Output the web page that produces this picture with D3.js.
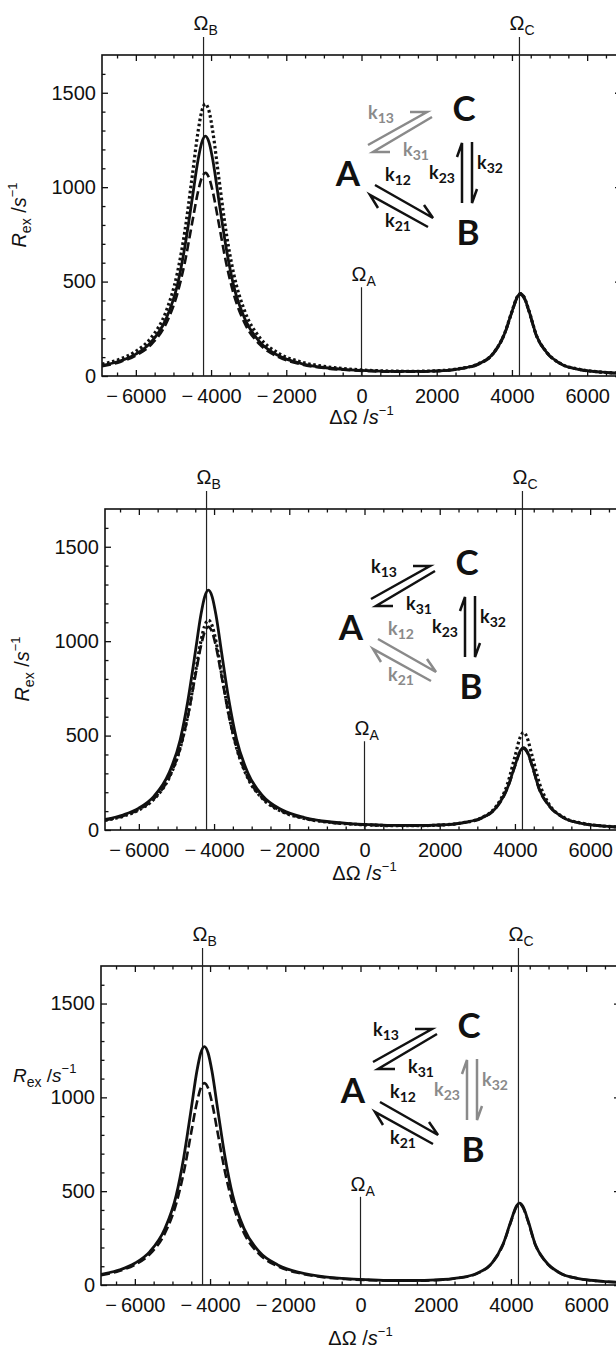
<!DOCTYPE html>
<html>
<head>
<meta charset="utf-8">
<script src="https://cdn.jsdelivr.net/npm/d3@7"></script>
<style>
  body { margin: 0; background: #fff; }
  svg { display: block; }
  text { font-family: "Liberation Sans", Arial, sans-serif; fill: #111; }
  .scheme text { font-family: Lato, "Open Sans", sans-serif; font-weight: 700; }
</style>
</head>
<body>
<svg id="chart" width="616" height="1357"></svg>
<script>
// offsets (s^-1) where the curves were read
const xGrid = [-6900, -6400, -6000, -5600, -5200, -4900, -4700, -4500, -4350, -4250,
  -4150, -4050, -3950, -3800, -3600, -3400, -3100, -2700, -2200, -1600,
  -1000, -400, 200, 800, 1400, 2000, 2600, 3100, 3500, 3800,
  4000, 4150, 4230, 4320, 4450, 4650, 4900, 5300, 5800, 6300, 6900];

// panel 1 (k13/k31 varied)
const p1Solid = [56, 81, 116, 178, 301, 478, 680, 940, 1140, 1235,
  1270, 1235, 1140, 940, 680, 479, 302, 179, 107, 66,
  45, 34, 28, 24, 24, 27, 38, 63, 118, 222,
  341, 422, 436, 418, 347, 215, 131, 64, 34, 22, 14];
const p1Dashed = [52, 76, 108, 165, 276, 434, 599, 814, 973, 1048,
  1076, 1048, 973, 814, 600, 435, 277, 166, 100, 62,
  42, 32, 26, 23, 23, 26, 37, 61, 117, 219,
  337, 417, 431, 413, 342, 213, 129, 64, 34, 21, 14];
const p1Dotted = [63, 91, 131, 201, 340, 543, 763, 1060, 1289, 1400,
  1441, 1400, 1289, 1060, 763, 543, 341, 202, 120, 74,
  51, 38, 30, 26, 25, 28, 39, 64, 119, 223,
  342, 423, 437, 419, 348, 216, 132, 65, 35, 22, 15];

// panel 2 (k12/k21 varied)
const p2Solid = [56, 81, 116, 178, 301, 478, 680, 940, 1140, 1235,
  1270, 1235, 1140, 940, 680, 479, 302, 179, 107, 66,
  45, 34, 28, 24, 24, 27, 38, 63, 118, 222,
  341, 422, 436, 418, 347, 215, 131, 64, 34, 22, 14];
const p2Dashed = [52, 76, 108, 165, 276, 434, 599, 814, 973, 1048,
  1076, 1048, 973, 814, 600, 435, 277, 166, 100, 62,
  42, 32, 26, 23, 23, 26, 37, 61, 117, 219,
  337, 417, 431, 413, 342, 213, 129, 64, 34, 21, 14];
const p2Dotted = [51, 74, 106, 163, 274, 434, 604, 829, 1000, 1081,
  1111, 1081, 1000, 829, 604, 434, 274, 164, 98, 61,
  42, 32, 26, 23, 23, 26, 38, 64, 125, 243,
  389, 496, 516, 491, 397, 248, 139, 67, 35, 22, 14];

// panel 3 (k23/k32 varied)
const p3Solid = [56, 81, 116, 178, 301, 478, 680, 940, 1140, 1235,
  1270, 1235, 1140, 940, 680, 479, 302, 179, 107, 66,
  45, 34, 28, 24, 24, 27, 38, 63, 118, 222,
  341, 422, 436, 418, 347, 215, 131, 64, 34, 22, 14];
const p3Dashed = [52, 76, 108, 165, 276, 434, 599, 814, 973, 1048,
  1076, 1048, 973, 814, 600, 435, 277, 166, 100, 62,
  42, 32, 26, 23, 23, 26, 37, 61, 117, 219,
  337, 417, 431, 413, 342, 213, 129, 64, 34, 21, 14];

const xTicks = [-6000, -4000, -2000, 0, 2000, 4000, 6000];
const yTicks = [0, 500, 1000, 1500];
const omegaA = 0, omegaB = -4200, omegaC = 4200;
const omegaATop = 470;
const greyRates = [['k13', 'k31'], ['k12', 'k21'], ['k23', 'k32']];

const panels = [
  { top: 55, left: 102, height: 321, series: [p1Solid, p1Dashed, p1Dotted], scheme: [0, 0], title: 48, flatLabel: false },
  { top: 509, left: 105, height: 321, series: [p2Solid, p2Dashed, p2Dotted], scheme: [0, 0], title: 50, flatLabel: false },
  { top: 966, left: 101, height: 319, series: [p3Solid, p3Dashed], scheme: [6, 6], title: 60, flatLabel: true }
];

const plotWidth = 519;
const lineStyles = [
  { dash: null, width: 2.8 },
  { dash: '9,4', width: 2.6 },
  { dash: '2.6,2.6', width: 3.2 }
];

let svg = d3.select('#chart');
svg.append('rect').attr('width', 616).attr('height', 1357).attr('fill', '#fff');

let fmt = d => d < 0 ? '\u2212\u2009' + Math.abs(d) : String(d);

let drawPanel = function (p, i) {
  let x = d3.scaleLinear().domain([-6900, 6900]).range([0, plotWidth]);
  let y = d3.scaleLinear().domain([0, 1700]).range([p.height, 0]);
  let g = svg.append('g').attr('transform', 'translate(' + p.left + ',' + p.top + ')');

  g.append('clipPath').attr('id', 'clip' + i)
    .append('rect').attr('width', plotWidth).attr('height', p.height);

  // inward ticks, major + minor, on all sides
  let xMinor = d3.range(-6500, 6600, 500).filter(v => v % 2000 !== 0);
  let yMinor = d3.range(100, 1700, 100).filter(v => v % 500 !== 0);
  let tickAxes = [
    [d3.axisBottom(x).tickValues(xTicks).tickSize(-6).tickFormat(fmt).tickPadding(13), 'translate(0,' + p.height + ')'],
    [d3.axisBottom(x).tickValues(xMinor).tickSize(-3.5).tickFormat(''), 'translate(0,' + p.height + ')'],
    [d3.axisTop(x).tickValues(xTicks).tickSize(-6).tickFormat(''), null],
    [d3.axisTop(x).tickValues(xMinor).tickSize(-3.5).tickFormat(''), null],
    [d3.axisLeft(y).tickValues(yTicks).tickSize(-6).tickFormat(d3.format('d')).tickPadding(6), null],
    [d3.axisLeft(y).tickValues(yMinor).tickSize(-3.5).tickFormat(''), null],
    [d3.axisRight(y).tickValues(yTicks).tickSize(-6).tickFormat(''), 'translate(' + plotWidth + ',0)'],
    [d3.axisRight(y).tickValues(yMinor).tickSize(-3.5).tickFormat(''), 'translate(' + plotWidth + ',0)']
  ];
  tickAxes.forEach(a => {
    let ag = g.append('g').call(a[0]);
    if (a[1]) ag.attr('transform', a[1]);
    ag.select('.domain').remove();
    ag.selectAll('line').attr('stroke', '#111').attr('stroke-width', 1.3);
    ag.selectAll('text').attr('font-size', 20).attr('fill', '#222')
      .style('font-family', '"Liberation Sans", Arial, sans-serif');
  });

  g.append('rect').attr('width', plotWidth).attr('height', p.height)
    .attr('fill', 'none').attr('stroke', '#111').attr('stroke-width', 1.6);

  // reference lines for the three sites
  g.append('line').attr('x1', x(omegaB)).attr('x2', x(omegaB)).attr('y1', -18).attr('y2', p.height)
    .attr('stroke', '#222').attr('stroke-width', 1.2);
  g.append('line').attr('x1', x(omegaC)).attr('x2', x(omegaC)).attr('y1', -18).attr('y2', p.height)
    .attr('stroke', '#222').attr('stroke-width', 1.2);
  g.append('line').attr('x1', x(omegaA)).attr('x2', x(omegaA)).attr('y1', y(omegaATop)).attr('y2', p.height)
    .attr('stroke', '#222').attr('stroke-width', 1.2);

  let omegaLabel = (xv, yv, sub) => {
    let t = g.append('text').attr('x', xv - 10).attr('y', yv).attr('font-size', 20);
    t.append('tspan').text('\u03a9');
    t.append('tspan').attr('font-size', 14).attr('dy', 5).text(sub);
  };
  omegaLabel(x(omegaB), -25, 'B');
  omegaLabel(x(omegaC), -25, 'C');
  omegaLabel(x(omegaA), y(omegaATop) - 6, 'A');

  // curves
  let line = d3.line().x((d, j) => x(xGrid[j])).y(d => y(d)).curve(d3.curveMonotoneX);
  p.series.forEach((s, k) => {
    g.append('path').datum(s)
      .attr('clip-path', 'url(#clip' + i + ')')
      .attr('d', line)
      .attr('fill', 'none')
      .attr('stroke', '#111')
      .attr('stroke-width', lineStyles[k].width)
      .attr('stroke-dasharray', lineStyles[k].dash);
  });

  // axis titles
  let xt = g.append('text').attr('x', x(0)).attr('y', p.height + p.title)
    .attr('text-anchor', 'middle').attr('font-size', 20);
  xt.append('tspan').text('\u0394\u03a9 /');
  xt.append('tspan').attr('font-style', 'italic').text('s');
  xt.append('tspan').attr('font-size', 13).attr('dy', -9).text('\u22121');

  // the third panel's y title sits flat, just above the 1000 label
  let yt = g.append('text').attr('font-size', 19);
  if (p.flatLabel) {
    yt.attr('x', -88).attr('y', y(1000) - 15);
  } else {
    yt.attr('transform', 'translate(' + (-76) + ',' + (160) + ') rotate(-90)')
      .attr('text-anchor', 'middle').attr('font-size', 20);
  }
  yt.append('tspan').attr('font-style', 'italic').text('R');
  yt.append('tspan').attr('font-size', 14).attr('dy', 5).text('ex');
  yt.append('tspan').attr('dy', -5).text(' /');
  yt.append('tspan').attr('font-style', 'italic').text('s');
  yt.append('tspan').attr('font-size', 13).attr('dy', -9).text('\u22121');

  drawScheme(g, p.scheme, greyRates[i]);
};

let drawScheme = function (g, off, grey) {
  let sg = g.append('g').attr('class', 'scheme')
    .attr('transform', 'translate(' + off[0] + ',' + off[1] + ')');
  let colour = k => grey.indexOf(k) >= 0 ? '#8a8a8a' : '#111';

  [['C', 362, 66], ['A', 246, 131], ['B', 366, 190]].forEach(s => {
    sg.append('text').attr('x', s[1]).attr('y', s[2]).attr('text-anchor', 'middle')
      .attr('font-size', 35).text(s[0]);
  });

  // harpoons: start, tip, barb end
  let arrows = [
    ['k13', [266, 90], [325, 57], [308, 57]],
    ['k31', [330, 62], [271, 97], [288, 97]],
    ['k12', [273, 130], [331, 163], [322, 150]],
    ['k21', [326, 172], [268, 140], [276, 153]],
    ['k23', [360, 148], [360, 88], [355, 102]],
    ['k32', [370, 87], [370, 148], [375, 134]]
  ];
  arrows.forEach(a => {
    sg.append('path')
      .attr('d', 'M' + a[1] + 'L' + a[2] + 'L' + a[3])
      .attr('fill', 'none').attr('stroke', colour(a[0]))
      .attr('stroke-width', 2.5).attr('stroke-linejoin', 'miter');
  });

  let labels = [['k13', 266, 64], ['k31', 301, 101], ['k12', 283, 126],
    ['k21', 283, 172], ['k23', 327, 124], ['k32', 375, 114]];
  labels.forEach(l => {
    let t = sg.append('text').attr('x', l[1]).attr('y', l[2]).attr('font-size', 18)
      .style('fill', colour(l[0]));
    t.append('tspan').text('k');
    t.append('tspan').attr('font-size', 14).attr('dy', 4).text(l[0].slice(1));
  });
};

panels.forEach(drawPanel);
</script>
</body>
</html>
